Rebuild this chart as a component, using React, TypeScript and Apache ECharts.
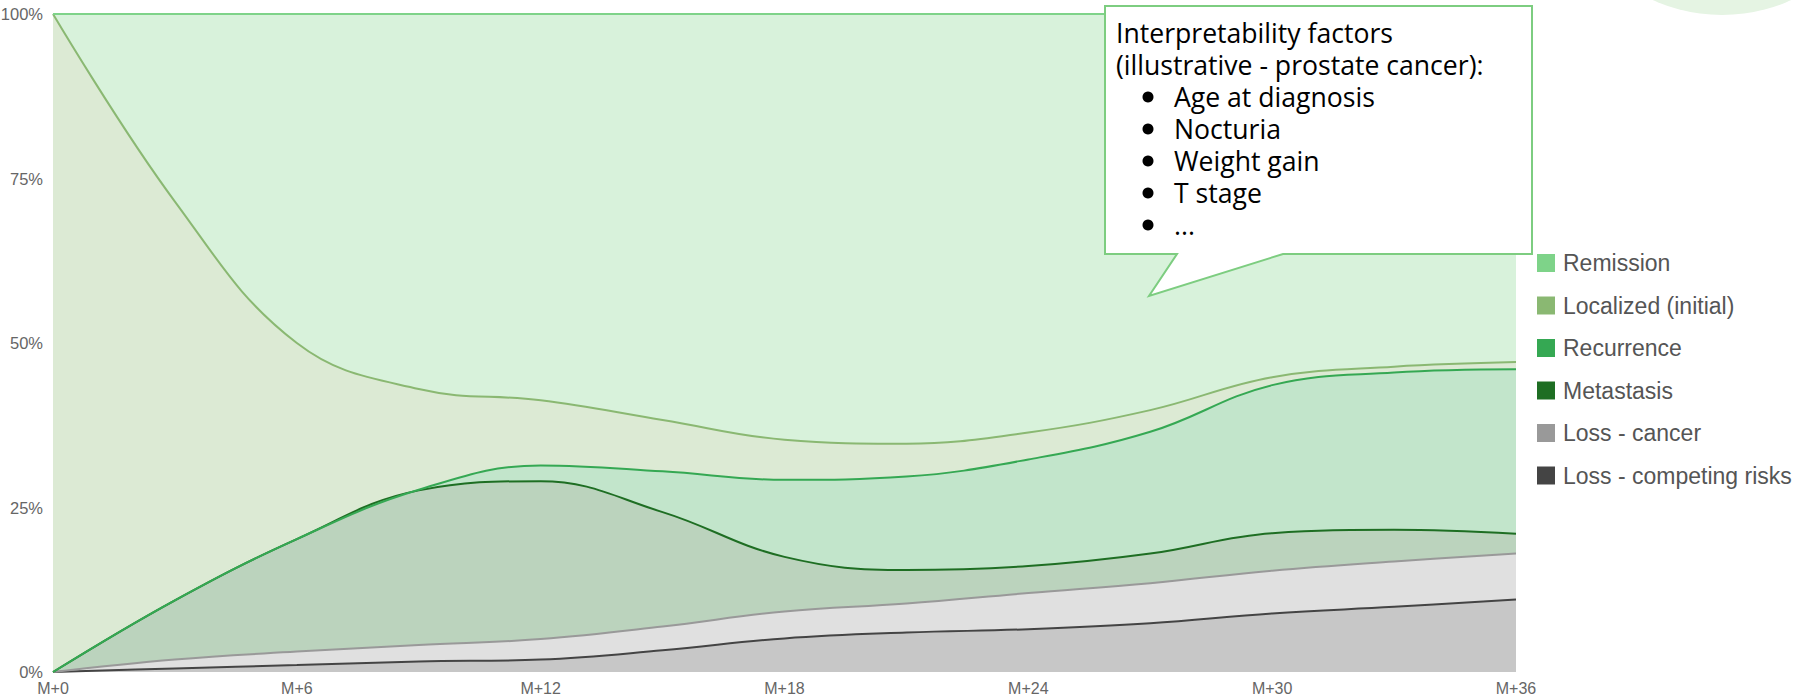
import React, { useEffect, useRef } from "react";
import * as echarts from "echarts";

// Months (every 3 months) and tick labels
const months = [0, 3, 6, 9, 12, 15, 18, 21, 24, 27, 30, 33, 36];
const xLabels = months.map((m) => `M+${m}`);
const yTicks = [0, 25, 50, 75, 100];

// Share of patients per state (%), stacked bottom -> top
const lossCompeting = [0, 0.55, 1.05, 1.6, 1.9, 3.3, 5.1, 6.0, 6.5, 7.4, 8.9, 9.9, 11.0];
const lossCancer = [0, 1.35, 2.05, 2.5, 3.1, 3.6, 4.1, 4.4, 5.5, 6.1, 6.5, 6.9, 7.0];
const metastasis = [0, 9.0, 17.1, 23.5, 24.0, 17.4, 8.3, 5.1, 4.1, 4.5, 5.7, 4.8, 3.0];
const recurrence = [0, 0, 0, 0.1, 2.4, 6.2, 11.7, 14.2, 16.2, 18.5, 22.5, 23.9, 25.0];
const localized = [100, 60.6, 29.8, 15.3, 9.9, 7.8, 6.1, 5.0, 4.1, 3.3, 1.2, 0.9, 1.1];
const remission = [0, 28.5, 50.0, 57.0, 58.7, 61.7, 64.7, 65.3, 63.6, 60.2, 55.2, 53.6, 52.9];

const seriesNames = [
  "Loss - competing risks",
  "Loss - cancer",
  "Metastasis",
  "Recurrence",
  "Localized (initial)",
  "Remission",
];
const seriesColors = ["#444444", "#999999", "#1e6e23", "#35a853", "#8ab872", "#7ed389"];
const seriesData = [lossCompeting, lossCancer, metastasis, recurrence, localized, remission];
const legendOrder = [...seriesNames].reverse();

const noteTitle = ["Interpretability factors", "(illustrative - prostate cancer):"];
const noteBullets = ["Age at diagnosis", "Nocturia", "Weight gain", "T stage", "..."];

export default function App() {
  const ref = useRef<HTMLDivElement>(null);

  useEffect(() => {
    if (!ref.current) return;
    const chart = echarts.init(ref.current, null, { renderer: "svg" });

    const noteFont = "Open Sans";
    const noteEls: any[] = [
      {
        type: "polygon",
        z: 100,
        shape: {
          points: [
            [1105, 6],
            [1532, 6],
            [1532, 254],
            [1283, 254],
            [1149, 296],
            [1177, 254],
            [1105, 254],
          ],
        },
        style: { fill: "#fff", stroke: "#7dcd80", lineWidth: 2 },
      },
    ];
    noteTitle.forEach((t, i) => {
      noteEls.push({
        type: "text",
        z: 101,
        x: 1116,
        y: 33 + i * 32,
        style: {
          text: t,
          fontFamily: noteFont,
          fontSize: 26.6,
          lineHeight: 28,
          fill: "#000",
          verticalAlign: "middle",
        },
      });
    });
    noteBullets.forEach((t, i) => {
      const cy = 97 + i * 32;
      noteEls.push({
        type: "circle",
        z: 101,
        shape: { cx: 1148, cy: cy, r: 5.5 },
        style: { fill: "#000" },
      });
      noteEls.push({
        type: "text",
        z: 101,
        x: 1174,
        y: cy,
        style: {
          text: t,
          fontFamily: noteFont,
          fontSize: 26.6,
          lineHeight: 28,
          fill: "#000",
          verticalAlign: "middle",
        },
      });
    });

    chart.setOption({
      animation: false,
      grid: { left: 53, top: 14, width: 1463, height: 658, outerBoundsMode: "none", containLabel: false },
      xAxis: {
        type: "category",
        boundaryGap: false,
        data: xLabels,
        axisLine: { show: false },
        axisTick: { show: false },
        splitLine: { show: false },
        axisLabel: {
          interval: 1,
          margin: 8,
          color: "#666",
          fontFamily: "Liberation Sans, Arial",
          fontSize: 16,
        },
      },
      yAxis: {
        type: "value",
        min: yTicks[0],
        max: yTicks[yTicks.length - 1],
        interval: 25,
        axisLine: { show: false },
        axisTick: { show: false },
        splitLine: { show: false },
        axisLabel: {
          margin: 10,
          formatter: "{value}%",
          color: "#666",
          fontFamily: "Liberation Sans, Arial",
          fontSize: 16.5,
        },
      },
      legend: {
        orient: "vertical",
        left: 1532,
        top: 246.5,
        itemWidth: 18,
        itemHeight: 18,
        itemGap: 19.5,
        icon: "rect",
        selectedMode: false,
        data: legendOrder,
        textStyle: {
          fontFamily: "Liberation Sans, Arial",
          fontSize: 23,
          color: "#555",
          padding: [0, 0, 0, 3],
        },
      },
      series: seriesNames.map((name, i) => ({
        name,
        type: "line",
        stack: "total",
        smooth: 0.4,
        showSymbol: false,
        symbol: "none",
        data: seriesData[i],
        color: seriesColors[i],
        itemStyle: { color: seriesColors[i] },
        lineStyle: { color: seriesColors[i], width: 2 },
        areaStyle: { color: seriesColors[i], opacity: 0.3 },
        emphasis: { disabled: true },
        z: 2,
      })),
      graphic: [
        {
          type: "circle",
          z: 1,
          shape: { cx: 1722, cy: -153, r: 168 },
          style: { fill: "#e5f4e3" },
        },
        ...noteEls,
      ],
    });

    return () => chart.dispose();
  }, []);

  return (
    <div
      ref={ref}
      style={{ position: "fixed", left: 0, top: 0, width: 1795, height: 697, background: "#fff" }}
    />
  );
}
